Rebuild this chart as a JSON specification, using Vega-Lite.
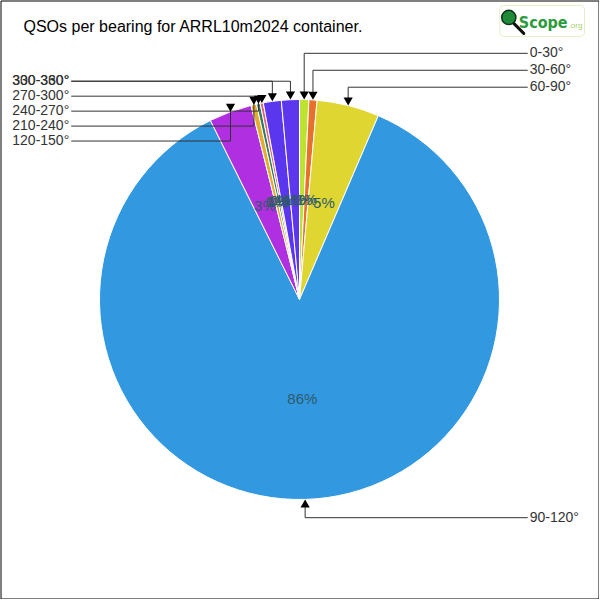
{
  "$schema": "https://vega.github.io/schema/vega-lite/v6.json",
  "width": 598,
  "height": 598,
  "padding": 0.5,
  "autosize": {"type": "none"},
  "background": "white",
  "config": {"view": {"stroke": "#000", "strokeWidth": 1}},
  "title": {
    "text": "QSOs per bearing for ARRL10m2024 container.",
    "anchor": "start",
    "offset": -34,
    "dx": 23,
    "font": "Liberation Sans",
    "fontSize": 16,
    "fontWeight": "normal",
    "color": "#000"
  },
  "layer": [
    {
      "data": {
        "values": [
          {"bearing": "0-30°", "qsos": 15},
          {"bearing": "30-60°", "qsos": 13},
          {"bearing": "60-90°", "qsos": 101},
          {"bearing": "90-120°", "qsos": 1724},
          {"bearing": "120-150°", "qsos": 69},
          {"bearing": "210-240°", "qsos": 9},
          {"bearing": "240-270°", "qsos": 6},
          {"bearing": "270-300°", "qsos": 5},
          {"bearing": "300-330°", "qsos": 29},
          {"bearing": "330-360°", "qsos": 29}
        ]
      },
      "transform": [
        {"joinaggregate": [{"op": "sum", "field": "qsos", "as": "total"}]},
        {"calculate": "toNumber(split(datum.bearing, '-')[0])", "as": "start"},
        {"calculate": "datum.qsos / datum.total", "as": "pct"},
        {"window": [{"op": "sum", "field": "qsos", "as": "cum"}], "sort": [{"field": "start", "order": "ascending"}], "frame": [null, 0]},
        {"calculate": "2 * PI * (datum.cum - datum.qsos / 2) / datum.total", "as": "mid"},
        {"calculate": "sin(datum.mid)", "as": "ax"},
        {"calculate": "cos(datum.mid)", "as": "ay"},
        {"calculate": "datum.ax >= 0 ? 1 : -1", "as": "side"},
        {"calculate": "datum.ay > 0 ? 'down' : 'up'", "as": "dir"},
        {"calculate": "datum.side > 0 ? datum.mid : -datum.mid", "as": "rk"},
        {"window": [{"op": "row_number", "as": "rank"}], "groupby": ["side", "dir"], "sort": [{"field": "rk", "order": "ascending"}]},
        {"calculate": "datum.dir == 'down' ? (datum.side > 0 ? 1.235 - 0.085 * (datum.rank - 1) : min(1.095, 1.17 - 0.075 * (datum.rank - 1))) : datum.ay - 0.095", "as": "ly"},
        {"calculate": "datum.ay + (datum.dir == 'down' ? 0.024 : -0.024)", "as": "tipY"},
        {"calculate": "datum.side * 1.145", "as": "lx"}
      ],
      "layer": [
        {
          "mark": {"type": "arc", "outerRadius": 200, "stroke": "#ffffff", "strokeWidth": 1},
          "encoding": {
            "theta": {"field": "qsos", "type": "quantitative", "stack": true},
            "order": {"field": "start", "type": "quantitative"},
            "color": {
              "field": "bearing",
              "type": "nominal",
              "legend": null,
              "scale": {
                "domain": ["0-30°", "30-60°", "60-90°", "90-120°", "120-150°", "210-240°", "240-270°", "270-300°", "300-330°", "330-360°"],
                "range": ["#bde22f", "#e8702d", "#e0d631", "#3298e0", "#b02fe0", "#e5ac2f", "#2f7b65", "#e0647b", "#5b36ef", "#5d37ee"]
              }
            }
          }
        },
        {
          "mark": {"type": "text", "radius": 100, "font": "Liberation Sans", "fontSize": 15, "fill": "#2f5a6c"},
          "encoding": {
            "theta": {"field": "qsos", "type": "quantitative", "stack": true},
            "order": {"field": "start", "type": "quantitative"},
            "text": {"field": "pct", "type": "quantitative", "format": ".0%"}
          }
        },
        {
          "mark": {"type": "rule", "stroke": "#333333", "strokeWidth": 1},
          "encoding": {
            "x": {"field": "ax", "type": "quantitative", "axis": null, "scale": {"domain": [-1.5, 1.5], "nice": false, "zero": false}},
            "x2": {"field": "lx"},
            "y": {"field": "ly", "type": "quantitative", "axis": null, "scale": {"domain": [-1.5, 1.5], "nice": false, "zero": false}}
          }
        },
        {
          "mark": {"type": "rule", "stroke": "#333333", "strokeWidth": 1},
          "encoding": {
            "x": {"field": "ax", "type": "quantitative"},
            "y": {"field": "ly", "type": "quantitative"},
            "y2": {"field": "tipY"}
          }
        },
        {
          "mark": {"type": "point", "filled": true, "color": "#000000", "size": 85, "opacity": 1},
          "encoding": {
            "x": {"field": "ax", "type": "quantitative"},
            "y": {"field": "tipY", "type": "quantitative"},
            "shape": {"field": "dir", "type": "nominal", "legend": null, "scale": {"domain": ["down", "up"], "range": ["triangle-down", "triangle-up"]}}
          }
        },
        {
          "transform": [{"filter": "datum.side > 0"}],
          "mark": {"type": "text", "align": "left", "baseline": "middle", "dx": 2, "font": "Liberation Sans", "fontSize": 14, "fill": "#333333"},
          "encoding": {
            "x": {"field": "lx", "type": "quantitative"},
            "y": {"field": "ly", "type": "quantitative"},
            "text": {"field": "bearing", "type": "nominal"}
          }
        },
        {
          "transform": [{"filter": "datum.side < 0"}],
          "mark": {"type": "text", "align": "right", "baseline": "middle", "dx": -2, "font": "Liberation Sans", "fontSize": 14, "fill": "#333333"},
          "encoding": {
            "x": {"field": "lx", "type": "quantitative"},
            "y": {"field": "ly", "type": "quantitative"},
            "text": {"field": "bearing", "type": "nominal"}
          }
        }
      ]
    },
    {
      "data": {"values": [{"logo": "QScope"}]},
      "layer": [
        {
          "mark": {"type": "rect", "fill": "#ffffff", "stroke": "#e6eec4", "strokeWidth": 1, "cornerRadius": 4},
          "encoding": {
            "x": {"datum": 1.005, "type": "quantitative"},
            "x2": {"datum": 1.43},
            "y": {"datum": 1.475, "type": "quantitative"},
            "y2": {"datum": 1.32}
          }
        },
        {
          "mark": {"type": "rule", "stroke": "#111111", "strokeWidth": 3, "strokeCap": "round"},
          "encoding": {
            "x": {"datum": 1.07, "type": "quantitative"},
            "x2": {"datum": 1.125},
            "y": {"datum": 1.39, "type": "quantitative"},
            "y2": {"datum": 1.335}
          }
        },
        {
          "mark": {"type": "point", "filled": true, "fill": "#1f8a3a", "stroke": "#0d3318", "strokeWidth": 1.5, "size": 200, "opacity": 1},
          "encoding": {
            "x": {"datum": 1.05, "type": "quantitative"},
            "y": {"datum": 1.415, "type": "quantitative"}
          }
        },
        {
          "mark": {"type": "text", "align": "left", "baseline": "alphabetic", "font": "'DejaVu Sans Condensed', Roboto, sans-serif", "fontWeight": "bold", "fontSize": 16, "fill": "#2d9b3c"},
          "encoding": {
            "x": {"datum": 1.1, "type": "quantitative"},
            "y": {"datum": 1.36, "type": "quantitative"},
            "text": {"value": "Scope"}
          }
        },
        {
          "mark": {"type": "text", "align": "left", "baseline": "alphabetic", "font": "Liberation Sans", "fontSize": 8, "fill": "#a8cf6a"},
          "encoding": {
            "x": {"datum": 1.35, "type": "quantitative"},
            "y": {"datum": 1.36, "type": "quantitative"},
            "text": {"value": ".org"}
          }
        }
      ]
    }
  ]
}
